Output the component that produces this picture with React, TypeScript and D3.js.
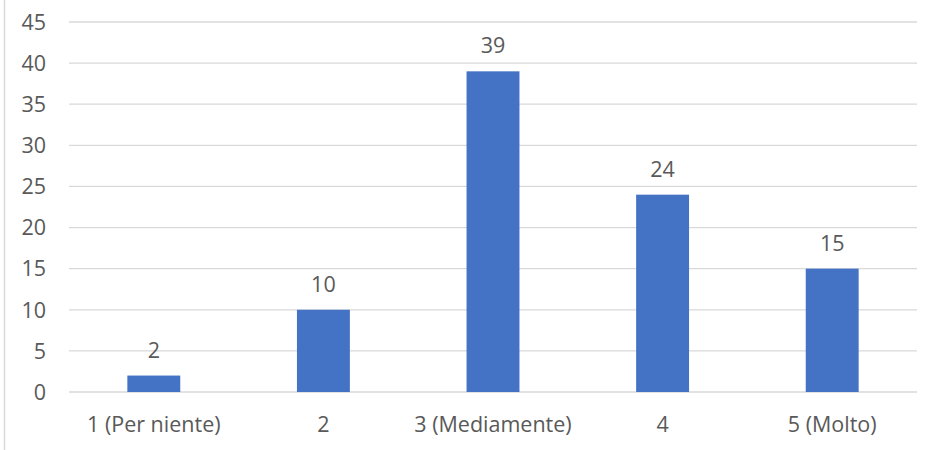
import React from "react";
import * as d3 from "d3";

const categories = ["1 (Per niente)", "2", "3 (Mediamente)", "4", "5 (Molto)"];
const values = [2, 10, 39, 24, 15];
const yTicks = [0, 5, 10, 15, 20, 25, 30, 35, 40, 45];

const W = 936;
const H = 450;
const FONT = "'Open Sans', sans-serif";
const TEXT = "#595959";
const FS = 21.5;

export default function App() {
  const x = d3.scaleBand<string>().domain(categories).range([69, 917]).padding(0);
  const y = d3.scaleLinear().domain([0, 45]).range([392, 22]);
  const barW = x.bandwidth() * 0.312;

  return (
    <svg width={W} height={H} style={{ position: "absolute", left: 0, top: 0, background: "#fff" }}>
      <rect x={0} y={0} width={W} height={H} fill="#fff" />
      <line x1={4.5} x2={4.5} y1={0} y2={H} stroke="#D9D9D9" strokeWidth={1.5} />
      {yTicks.map((t) => (
        <g key={t}>
          <line x1={69} x2={917} y1={y(t)} y2={y(t)} stroke="#D9D9D9" strokeWidth={1.3} />
          <text x={46} y={y(t)} dy="0.36em" textAnchor="end" fontFamily={FONT} fontSize={FS} fill={TEXT}>
            {t}
          </text>
        </g>
      ))}
      {categories.map((c, i) => {
        const cx = (x(c) as number) + x.bandwidth() / 2;
        return (
          <g key={c}>
            <rect x={cx - barW / 2} y={y(values[i])} width={barW} height={y(0) - y(values[i])} fill="#4472C4" />
            <text x={cx} y={y(values[i]) - 18} textAnchor="middle" fontFamily={FONT} fontSize={FS} fill={TEXT}>
              {values[i]}
            </text>
            <text x={cx} y={432} textAnchor="middle" fontFamily={FONT} fontSize={FS} fill={TEXT}>
              {c}
            </text>
          </g>
        );
      })}
    </svg>
  );
}
